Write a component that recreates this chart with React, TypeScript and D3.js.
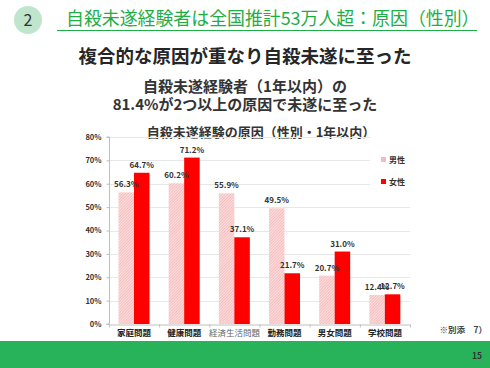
import React, { useEffect, useRef } from 'react';
import * as d3 from 'd3';

const categories = ['家庭問題', '健康問題', '経済生活問題', '勤務問題', '男女問題', '学校問題'];
const seriesNames = ['男性', '女性'];
const maleValues = [56.3, 60.2, 55.9, 49.5, 20.7, 12.4];
const femaleValues = [64.7, 71.2, 37.1, 21.7, 31.0, 12.7];
const yTicks = [0, 10, 20, 30, 40, 50, 60, 70, 80];

const FONT = '"Noto Sans CJK JP", "Noto Sans", sans-serif';

const App: React.FC = () => {
  const ref = useRef<SVGSVGElement | null>(null);

  useEffect(() => {
    const svg = d3.select(ref.current);
    svg.selectAll('*').remove();

    const W = 490;
    const H = 368;

    // fine hatch for male bars
    const defs = svg.append('defs');
    const pat = defs
      .append('pattern')
      .attr('id', 'hatch')
      .attr('patternUnits', 'userSpaceOnUse')
      .attr('width', 2)
      .attr('height', 2)
      .attr('patternTransform', 'rotate(45)');
    pat.append('rect').attr('width', 2).attr('height', 2).attr('fill', '#fce0e0');
    pat.append('rect').attr('width', 0.8).attr('height', 2).attr('fill', '#f5b3b3');

    svg.append('rect').attr('width', W).attr('height', H).attr('fill', '#ffffff');

    // header
    svg.append('circle').attr('cx', 28).attr('cy', 20).attr('r', 14).attr('fill', '#bfe6cc');
    svg
      .append('text')
      .attr('x', 28)
      .attr('y', 26)
      .attr('text-anchor', 'middle')
      .attr('font-size', 16)
      .attr('fill', '#333')
      .text('2');
    svg
      .append('text')
      .attr('x', 66)
      .attr('y', 25)
      .attr('font-size', 17.9)
      .attr('fill', '#1fae46')
      .text('自殺未遂経験者は全国推計53万人超：原因（性別）');
    svg
      .append('line')
      .attr('x1', 57)
      .attr('x2', 477)
      .attr('y1', 30.5)
      .attr('y2', 30.5)
      .attr('stroke', '#1fae46')
      .attr('stroke-width', 1);

    svg
      .append('text')
      .attr('x', 245)
      .attr('y', 63)
      .attr('text-anchor', 'middle')
      .attr('font-size', 18.5)
      .attr('font-weight', 'bold')
      .attr('fill', '#262626')
      .text('複合的な原因が重なり自殺未遂に至った');

    svg
      .append('text')
      .attr('x', 245)
      .attr('y', 92)
      .attr('text-anchor', 'middle')
      .attr('font-size', 15)
      .attr('font-weight', 'bold')
      .attr('fill', '#333')
      .text('自殺未遂経験者（1年以内）の');
    svg
      .append('text')
      .attr('x', 245)
      .attr('y', 110)
      .attr('text-anchor', 'middle')
      .attr('font-size', 15)
      .attr('font-weight', 'bold')
      .attr('fill', '#333')
      .text('81.4%が2つ以上の原因で未遂に至った');

    svg
      .append('text')
      .attr('x', 261)
      .attr('y', 137)
      .attr('text-anchor', 'middle')
      .attr('font-size', 13)
      .attr('font-weight', 'bold')
      .attr('fill', '#333')
      .text('自殺未遂経験の原因（性別・1年以内）');

    // scales
    const x = d3.scaleBand<string>().domain(categories).range([109, 410]).padding(0);
    const xs = d3
      .scaleBand<string>()
      .domain(seriesNames)
      .range([9.5, 40.5])
      .padding(0);
    const y = d3.scaleLinear().domain([0, 80]).range([324, 137]);

    // gridlines
    svg
      .append('g')
      .selectAll('line')
      .data(yTicks.filter((t) => t > 0))
      .enter()
      .append('line')
      .attr('x1', 109)
      .attr('x2', (d) => (d >= 60 ? 370 : 410))
      .attr('y1', (d) => Math.round(y(d)) + 0.5)
      .attr('y2', (d) => Math.round(y(d)) + 0.5)
      .attr('stroke', '#e8e8e8')
      .attr('stroke-width', 1);

    // bars
    const groups = svg
      .append('g')
      .selectAll('g')
      .data(categories)
      .enter()
      .append('g')
      .attr('transform', (d) => `translate(${x(d)},0)`);

    groups
      .append('rect')
      .attr('x', xs('男性')!)
      .attr('width', xs.bandwidth())
      .attr('y', (_, i) => y(maleValues[i]))
      .attr('height', (_, i) => y(0) - y(maleValues[i]))
      .attr('fill', 'url(#hatch)');

    groups
      .append('rect')
      .attr('x', xs('女性')!)
      .attr('width', xs.bandwidth())
      .attr('y', (_, i) => y(femaleValues[i]))
      .attr('height', (_, i) => y(0) - y(femaleValues[i]))
      .attr('fill', '#ff0000');

    groups
      .append('text')
      .attr('x', xs('男性')! + xs.bandwidth() / 2)
      .attr('y', (_, i) => y(maleValues[i]) - 5)
      .attr('text-anchor', 'middle')
      .attr('font-size', 8)
      .attr('font-weight', 'bold')
      .attr('fill', '#333')
      .text((_, i) => `${maleValues[i].toFixed(1)}%`);

    groups
      .append('text')
      .attr('x', xs('女性')! + xs.bandwidth() / 2)
      .attr('y', (_, i) => y(femaleValues[i]) - 5)
      .attr('text-anchor', 'middle')
      .attr('font-size', 8)
      .attr('font-weight', 'bold')
      .attr('fill', '#333')
      .text((_, i) => `${femaleValues[i].toFixed(1)}%`);

    // y axis
    const yAxis = svg
      .append('g')
      .attr('transform', 'translate(109.5,0)')
      .call(
        d3
          .axisLeft(y)
          .tickValues(yTicks)
          .tickSize(3)
          .tickFormat((d) => `${d}%`)
      );
    yAxis.select('.domain').attr('stroke', '#bfbfbf').attr('d', `M-3,${y(80)}H0V${y(0)}H-3`);
    yAxis.selectAll('line').attr('stroke', '#bfbfbf');
    yAxis
      .selectAll('text')
      .attr('font-size', 7.5)
      .attr('font-weight', 'bold')
      .attr('font-family', FONT)
      .attr('fill', '#333')
      .attr('x', -8);

    // x axis
    const xAxis = svg
      .append('g')
      .attr('transform', 'translate(0,324.5)')
      .call(d3.axisBottom(x).tickSize(0).tickSizeOuter(0));
    xAxis.select('.domain').attr('stroke', '#bfbfbf');
    xAxis
      .selectAll('text')
      .attr('font-size', 8.5)
      .attr('font-family', FONT)
      .attr('font-weight', (d) => (d === '経済生活問題' ? 'normal' : 'bold'))
      .attr('fill', (d) => (d === '経済生活問題' ? '#666' : '#222'))
      .attr('dy', '1.05em');
    xAxis
      .selectAll('.sep')
      .data(d3.range(categories.length + 1))
      .enter()
      .append('line')
      .attr('x1', (i) => 109 + i * x.bandwidth() + 0.5)
      .attr('x2', (i) => 109 + i * x.bandwidth() + 0.5)
      .attr('y1', 0)
      .attr('y2', 3)
      .attr('stroke', '#bfbfbf');

    // legend
    const legend = svg.append('g');
    seriesNames.forEach((s, i) => {
      legend
        .append('rect')
        .attr('x', 381)
        .attr('y', 157 + i * 22)
        .attr('width', 5)
        .attr('height', 5)
        .attr('fill', i === 0 ? '#f6bcbc' : '#ff0000');
      legend
        .append('text')
        .attr('x', 389)
        .attr('y', 163 + i * 22)
        .attr('font-size', 8)
        .attr('font-weight', 'bold')
        .attr('fill', '#333')
        .text(s);
    });

    svg
      .append('text')
      .attr('x', 487)
      .attr('y', 333)
      .attr('text-anchor', 'end')
      .attr('font-size', 8.5)
      .attr('font-weight', 'bold')
      .attr('fill', '#444')
      .text('※別添　7）');

    // footer
    svg.append('rect').attr('x', 0).attr('y', 341).attr('width', W).attr('height', H - 341).attr('fill', '#28b35a');
    svg
      .append('text')
      .attr('x', 482)
      .attr('y', 359)
      .attr('text-anchor', 'end')
      .attr('font-size', 8.5)
      .attr('font-weight', 'bold')
      .attr('fill', '#333')
      .text('15');
  }, []);

  return (
    <svg
      ref={ref}
      width={490}
      height={368}
      style={{ position: 'fixed', left: 0, top: 0, fontFamily: FONT }}
    />
  );
};

export default App;
